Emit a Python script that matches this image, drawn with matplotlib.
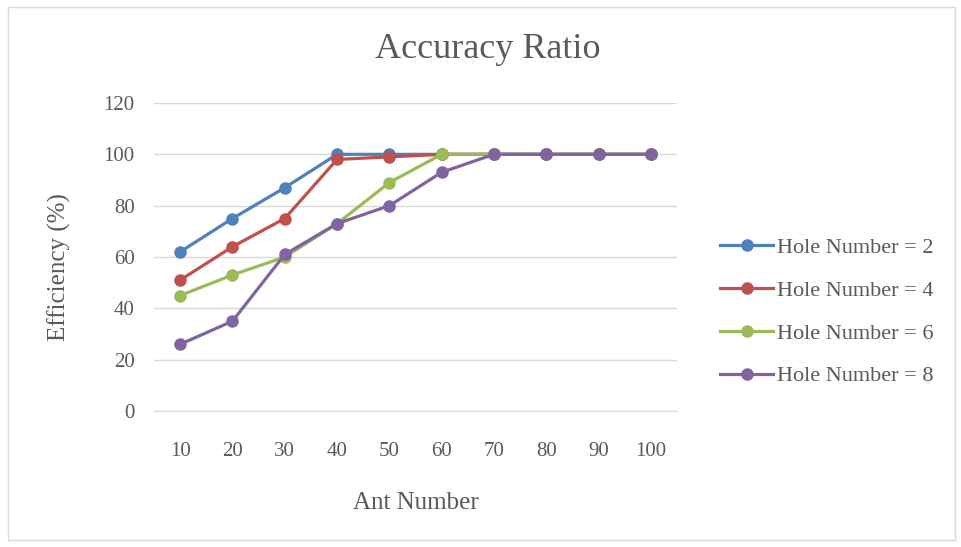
import matplotlib
matplotlib.use("Agg")
import matplotlib.pyplot as plt
from matplotlib.patches import Rectangle

categories = ["10", "20", "30", "40", "50", "60", "70", "80", "90", "100"]
series_names = ["Hole Number = 2", "Hole Number = 4", "Hole Number = 6", "Hole Number = 8"]
hole2 = [62, 75, 87, 100, 100, 100, 100, 100, 100, 100]
hole4 = [51, 64, 75, 98, 99, 100, 100, 100, 100, 100]
hole6 = [45, 53, 60, 73, 89, 100, 100, 100, 100, 100]
hole8 = [26, 35, 61, 73, 80, 93, 100, 100, 100, 100]
colors = ["#4F81BD", "#C0504D", "#9BBB59", "#8064A2"]
yticks = [0, 20, 40, 60, 80, 100, 120]

plt.rcParams['font.family'] = ['Liberation Serif', 'DejaVu Serif']
TXT = "#595959"

fig = plt.figure(figsize=(9.62, 5.47), dpi=100)
fig.patches.append(Rectangle((8/962, 7/547), 947/962, 533/547, transform=fig.transFigure,
                             fill=False, edgecolor="#D9D9D9", linewidth=1.0))
ax = fig.add_axes([154/962, 1-411/547, 523/962, 308/547])

x = list(range(len(categories)))
for vals, name, c in zip([hole2, hole4, hole6, hole8], series_names, colors):
    ax.plot(x, vals, color=c, linewidth=2.3, marker='o', markersize=8, label=name,
            markeredgecolor=c, zorder=3)

ax.set_xlim(-0.5, len(categories) - 0.5)
ax.set_ylim(0, 120)
ax.set_yticks(yticks)
ax.set_xticks(x)
ax.set_xticklabels(categories)
ax.grid(axis='y', color="#D9D9D9", linewidth=1.0)
ax.set_axisbelow(True)
for s in ['top', 'right', 'left']:
    ax.spines[s].set_visible(False)
ax.spines['bottom'].set_color("#D9D9D9")
ax.tick_params(axis='both', length=0, labelsize=15, colors=TXT)
ax.tick_params(axis='y', pad=14)
ax.tick_params(axis='x', pad=22)

fig.text(488/962, 1-50/547, "Accuracy Ratio", fontsize=26, color=TXT, ha='center', va='center')
ax.set_xlabel("Ant Number", fontsize=18, color=TXT)
ax.xaxis.set_label_coords(0.5, -0.262)
ax.set_ylabel("Efficiency (%)", fontsize=18, color=TXT)
ax.yaxis.set_label_coords(-0.158, 0.4675)

leg = fig.legend(loc='center left', bbox_to_anchor=(700/962, 1-312/547), frameon=False,
                 fontsize=16, handlelength=2.4, labelspacing=1.0,
                 handletextpad=0.15)
for t in leg.get_texts():
    t.set_color(TXT)

fig.savefig("out.png", dpi=100)
